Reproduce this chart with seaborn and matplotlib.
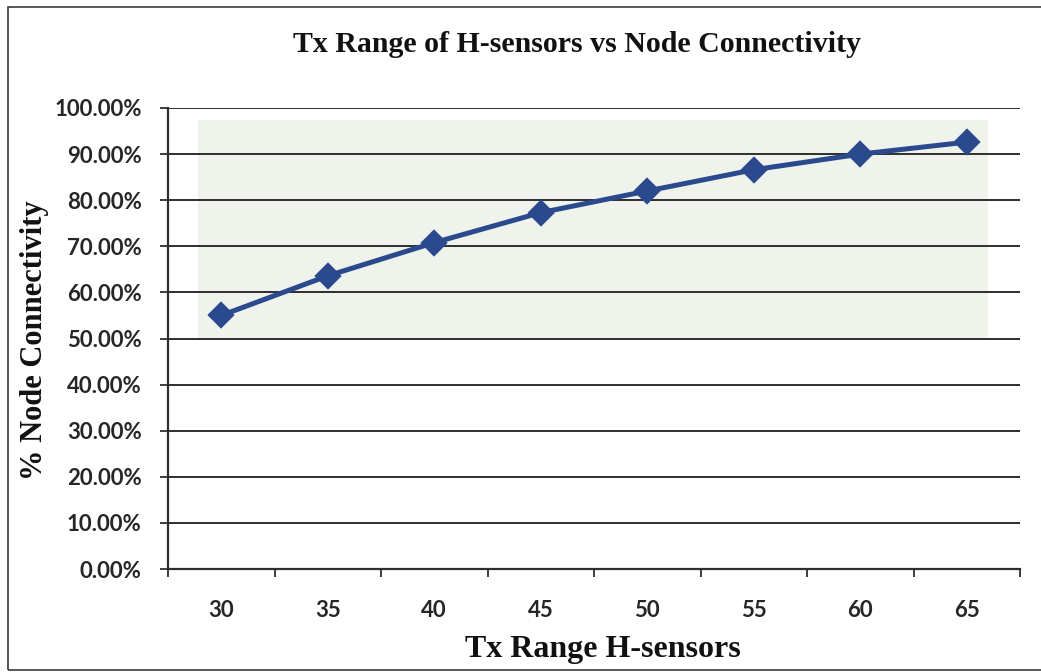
import matplotlib
matplotlib.use("Agg")
import matplotlib.pyplot as plt
from matplotlib.patches import Rectangle
from matplotlib.ticker import FixedLocator, FuncFormatter
import pandas as pd
import seaborn as sns

# Transmission range of H-sensors and the resulting node connectivity (%)
tx_range = ["30", "35", "40", "45", "50", "55", "60", "65"]
connectivity = [55.0, 63.6, 70.8, 77.3, 82.0, 86.6, 90.0, 92.6]
y_ticks = [0, 10, 20, 30, 40, 50, 60, 70, 80, 90, 100]

title = "Tx Range of H-sensors vs Node Connectivity"
x_label = "Tx Range H-sensors"
y_label = "% Node Connectivity"

df = pd.DataFrame({"range": tx_range, "conn": connectivity})

sns.set_theme(style="white")
plt.rcParams["font.family"] = ["Lato", "DejaVu Sans"]

W, H = 1041, 672
fig = plt.figure(figsize=(W / 100, H / 100), dpi=100)
fig.patch.set_facecolor("white")

left, right, top, bottom = 168, 1020, 108, 569
ax = fig.add_axes([left / W, 1 - bottom / H, (right - left) / W, (bottom - top) / H])
ax.set_facecolor("none")

# faint paper tint behind the upper part of the plot
fig.patches.append(Rectangle((198 / W, 1 - 338 / H), (988 - 198) / W, (338 - 120) / H,
                             transform=fig.transFigure, facecolor="#f0f3ec",
                             edgecolor="none", zorder=-5))
# chart border
fig.patches.append(Rectangle((8 / W, 1 - 670 / H), (1045 - 8) / W, (670 - 7) / H,
                             transform=fig.transFigure, facecolor="none",
                             edgecolor="#3a3a3a", linewidth=1.2, zorder=-4))

sns.pointplot(data=df, x="range", y="conn", ax=ax, color="#2b4a8e",
              markers="D", markersize=11, linewidth=3.6, errorbar=None)

ax.set_ylim(0, 100)
ax.set_xlim(-0.5, len(tx_range) - 0.5)

ax.yaxis.set_major_locator(FixedLocator(y_ticks))
ax.yaxis.set_major_formatter(FuncFormatter(lambda v, p: f"{v:.2f}%"))
for y in y_ticks[1:]:
    ax.axhline(y, color="#2e2e2e", linewidth=1.4, zorder=0)

# category labels centered, tick marks on the category boundaries
ax.set_xticks(range(len(tx_range)))
ax.set_xticklabels(tx_range)
ax.set_xticks([i - 0.5 for i in range(len(tx_range) + 1)], minor=True)
ax.tick_params(axis="x", which="major", length=0, pad=22, labelsize=16,
               labelcolor="#262626")
ax.tick_params(axis="x", which="minor", length=6, width=1.3, color="#2e2e2e",
               direction="out", bottom=True)
ax.tick_params(axis="y", which="major", length=6, width=1.3, color="#2e2e2e",
               direction="out", left=True, pad=13, labelsize=16, labelcolor="#262626")
for lab in ax.get_xticklabels() + ax.get_yticklabels():
    lab.set_fontweight("bold")

for s in ("top", "right"):
    ax.spines[s].set_visible(False)
for s in ("left", "bottom"):
    ax.spines[s].set_color("#2e2e2e")
    ax.spines[s].set_linewidth(1.6)

serif = ["Liberation Serif", "DejaVu Serif"]
ax.set_xlabel(x_label, family=serif, fontweight="bold", fontsize=23, color="#111111")
ax.set_ylabel(y_label, family=serif, fontweight="bold", fontsize=22, color="#111111")
ax.xaxis.set_label_coords((603 - left) / (right - left), (bottom - 650) / (bottom - top))
ax.yaxis.set_label_coords((35 - left) / (right - left), (bottom - 340) / (bottom - top))
ax.xaxis.label.set_va("center")
ax.yaxis.label.set_va("center")
fig.text(577 / W, 1 - 44 / H, title, family=serif, fontweight="bold", fontsize=21.5,
         ha="center", va="center", color="#111111")

fig.savefig("out.png", dpi=100, facecolor="white")
